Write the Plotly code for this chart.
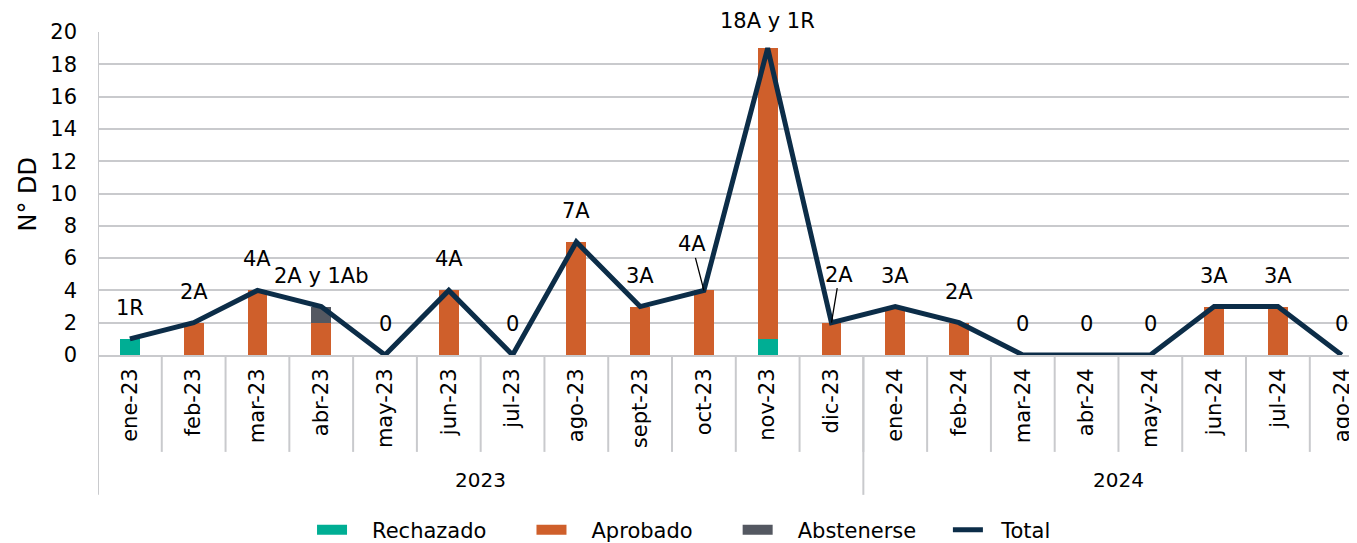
import plotly.graph_objects as go

# ---------------- data ----------------
months = ['ene-23', 'feb-23', 'mar-23', 'abr-23', 'may-23', 'jun-23', 'jul-23',
          'ago-23', 'sept-23', 'oct-23', 'nov-23', 'dic-23', 'ene-24', 'feb-24',
          'mar-24', 'abr-24', 'may-24', 'jun-24', 'jul-24', 'ago-24']
rechazado = [1, 0, 0, 0, 0, 0, 0, 0, 0, 0, 1, 0, 0, 0, 0, 0, 0, 0, 0, 0]
aprobado = [0, 2, 4, 2, 0, 4, 0, 7, 3, 4, 18, 2, 3, 2, 0, 0, 0, 3, 3, 0]
abstenerse = [0, 0, 0, 1, 0, 0, 0, 0, 0, 0, 0, 0, 0, 0, 0, 0, 0, 0, 0, 0]
total = [1, 2, 4, 3, 0, 4, 0, 7, 3, 4, 19, 2, 3, 2, 0, 0, 0, 3, 3, 0]
point_labels = ['1R', '2A', '4A', '2A y 1Ab', '0', '4A', '0', '7A', '3A', '4A',
                '18A y 1R', '2A', '3A', '2A', '0', '0', '0', '3A', '3A', '0']
years = ['2023', '2024']
months_per_year = [12, 8]
y_ticks = [0, 2, 4, 6, 8, 10, 12, 14, 16, 18, 20]

# ---------------- style ----------------
FONT = 'DejaVu Sans'
C_RECH = '#00AE94'
C_APRO = '#CF5F2B'
C_ABST = '#545861'
C_TOT = '#0C2D48'
C_GRID = '#C9CACD'
NB = '\u00a0'
leader = {'oct-23': (-12, -46), 'dic-23': (8, -48)}
label_shift = {'nov-23': 27}
legend_pad = {'Rechazado': (3, 6), 'Aprobado': (3, 6), 'Abstenerse': (3, 4)}

fig = go.Figure()

# legend-only swatches
for name, col in [('Rechazado', C_RECH), ('Aprobado', C_APRO), ('Abstenerse', C_ABST)]:
    lead, trail = legend_pad[name]
    fig.add_trace(go.Scatter(x=[None], y=[None], mode='lines', name=NB * lead + name + NB * trail,
                             line=dict(color=col, width=11)))

fig.add_trace(go.Scatter(x=months, y=total, mode='lines', name=NB * 2 + 'Total',
                         line=dict(color=C_TOT, width=5), hoverinfo='skip'))

for name, vals, col in [('Rechazado', rechazado, C_RECH),
                        ('Aprobado', aprobado, C_APRO),
                        ('Abstenerse', abstenerse, C_ABST)]:
    fig.add_trace(go.Bar(x=months, y=vals, name=name, marker=dict(color=col, line=dict(width=0)),
                         width=0.31, showlegend=False))

annotations = []
for m, t, lab in zip(months, total, point_labels):
    if m in leader:
        ax, ay = leader[m]
        annotations.append(dict(x=m, y=t, xref='x', yref='y', text=lab, showarrow=True,
                                arrowhead=0, arrowwidth=1.3, arrowcolor='#000000',
                                ax=ax, ay=ay, standoff=0,
                                font=dict(family=FONT, size=21, color='#000000')))
    else:
        annotations.append(dict(x=m, y=t, xref='x', yref='y', text=lab, showarrow=False,
                                yshift=label_shift.get(m, 31), borderpad=0,
                                font=dict(family=FONT, size=21, color='#000000')))

# year labels and dividers
shapes = []
start = 0
for k, (yr, n) in enumerate(zip(years, months_per_year)):
    center = start + (n - 1) / 2
    annotations.append(dict(x=center, y=-0.387, xref='x', yref='paper', text=yr,
                            xanchor='center', yanchor='middle',
                            showarrow=False, font=dict(family=FONT, size=20, color='#000000')))
    shapes.append(dict(type='line', xref='x', yref='paper', x0=start - 0.5, x1=start - 0.5,
                       y0=1 if k == 0 else 0, y1=-0.433, line=dict(color=C_GRID, width=2)))
    start += n
for i in range(len(months) - 1):
    shapes.append(dict(type='line', xref='x', yref='paper', x0=i + 0.5, x1=i + 0.5,
                       y0=0, y1=-0.30, line=dict(color=C_GRID, width=2)))

annotations.append(dict(x=-0.0556, y=0.5, xref='paper', yref='paper', text='N° DD',
                        textangle=-90, showarrow=False, xanchor='center', yanchor='middle',
                        font=dict(family=FONT, size=24, color='#000000')))

# page body has an 8px margin: figure is 8px smaller and margins shifted
fig.update_layout(
    width=1349, height=535,
    margin=dict(l=90, r=0, t=24, b=188, autoexpand=False),
    paper_bgcolor='white', plot_bgcolor='white',
    barmode='stack',
    showlegend=True,
    legend=dict(orientation='h', x=0.170, xanchor='left', y=-0.542, yanchor='middle',
                font=dict(family=FONT, size=21, color='#000000'),
                traceorder='normal', bgcolor='rgba(0,0,0,0)'),
    annotations=annotations,
    shapes=shapes,
    xaxis=dict(type='category', range=[-0.5, 19.24], tickangle=-90,
               tickfont=dict(family=FONT, size=21, color='#000000'),
               showline=True, linecolor=C_GRID, linewidth=2, showgrid=False,
               ticks='', ticklabelstandoff=3),
    yaxis=dict(range=[0, 20], tickvals=y_ticks, showgrid=True, gridcolor=C_GRID, gridwidth=2,
               zeroline=False, showline=False,
               tickfont=dict(family=FONT, size=21, color='#000000'),
               ticks='', ticklabelstandoff=20),
)

fig.write_html('out.html')
